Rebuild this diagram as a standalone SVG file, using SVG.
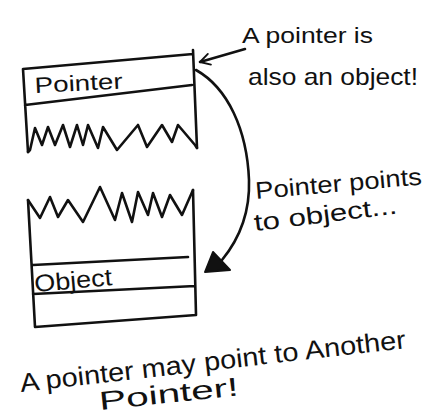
<svg xmlns="http://www.w3.org/2000/svg" width="428" height="419" viewBox="0 0 428 419">
<style>
.ln{fill:none;stroke:#111;stroke-width:2.6;stroke-linecap:round;stroke-linejoin:round}
.t{font-family:"Liberation Sans","DejaVu Sans",sans-serif;fill:#111}
</style>
<defs>
<marker id="open" viewBox="0 0 20 20" refX="18" refY="10" markerWidth="14" markerHeight="14" orient="auto" markerUnits="userSpaceOnUse">
<path d="M4,2 L18,10 L4,18" fill="none" stroke="#111" stroke-width="2.6" stroke-linecap="round" stroke-linejoin="round"/>
</marker>
</defs>
<rect width="428" height="419" fill="#fff"/>
<g id="pointer-node">
<path class="ln" d="M23,69 L193,54 M193,50 L197,148 M23,69 L28,152 M25,105 L192,85"/>
<path class="ln" d="M28,152 L30,150 L35,128 L42,145 L48,127 L55,145 L63,125 L70,147 L77,125 L83,145 L88,125 L98,148 L103,127 L117,150 L138,125 L147,147 L162,125 L172,142 L178,125 L195,145 L197,148"/>
<text class="t" x="35" y="93" font-size="22" textLength="88" lengthAdjust="spacingAndGlyphs" transform="rotate(-3 35 93)">Pointer</text>
</g>
<g id="object-node">
<path class="ln" d="M28,200 L40,218 L50,197 L58,217 L68,200 L83,222 L100,187 L115,220 L122,193 L132,222 L138,192 L148,215 L153,193 L162,217 L170,195 L182,215 L193,190"/>
<path class="ln" d="M28,200 L35,327 L196,315 L193,190 M33,265 L188,257 M33,294 L195,286"/>
<text class="t" x="35" y="292" font-size="24" textLength="78" lengthAdjust="spacingAndGlyphs" transform="rotate(-5 35 292)">Object</text>
</g>
<g id="connectors">
<path class="ln" d="M245,49 L200,62" marker-end="url(#open)"/>
<path class="ln" d="M196,70 C228,88 247,130 249,180 C250,210 240,238 222,260"/>
<path d="M205,272 L213,252 L230,270 Z" fill="#111" stroke="#111" stroke-width="2" stroke-linejoin="round"/>
</g>
<g id="labels">
<text class="t" x="242" y="43" font-size="22" textLength="131" lengthAdjust="spacingAndGlyphs">A pointer is</text>
<text class="t" x="248" y="85" font-size="24" textLength="170" lengthAdjust="spacingAndGlyphs">also an object!</text>
<text class="t" x="256" y="199" font-size="24" textLength="167" lengthAdjust="spacingAndGlyphs" transform="rotate(-5 256 199)">Pointer points</text>
<text class="t" x="255" y="231" font-size="24" textLength="144" lengthAdjust="spacingAndGlyphs" transform="rotate(-7 255 231)">to object...</text>
<text class="t" x="21" y="392" font-size="26" textLength="388" lengthAdjust="spacingAndGlyphs" transform="rotate(-6.5 21 392)">A pointer may point to Another</text>
<text class="t" x="100" y="410" font-size="26" textLength="140" lengthAdjust="spacingAndGlyphs" transform="rotate(-6 100 410)">Pointer!</text>
</g>
</svg>
